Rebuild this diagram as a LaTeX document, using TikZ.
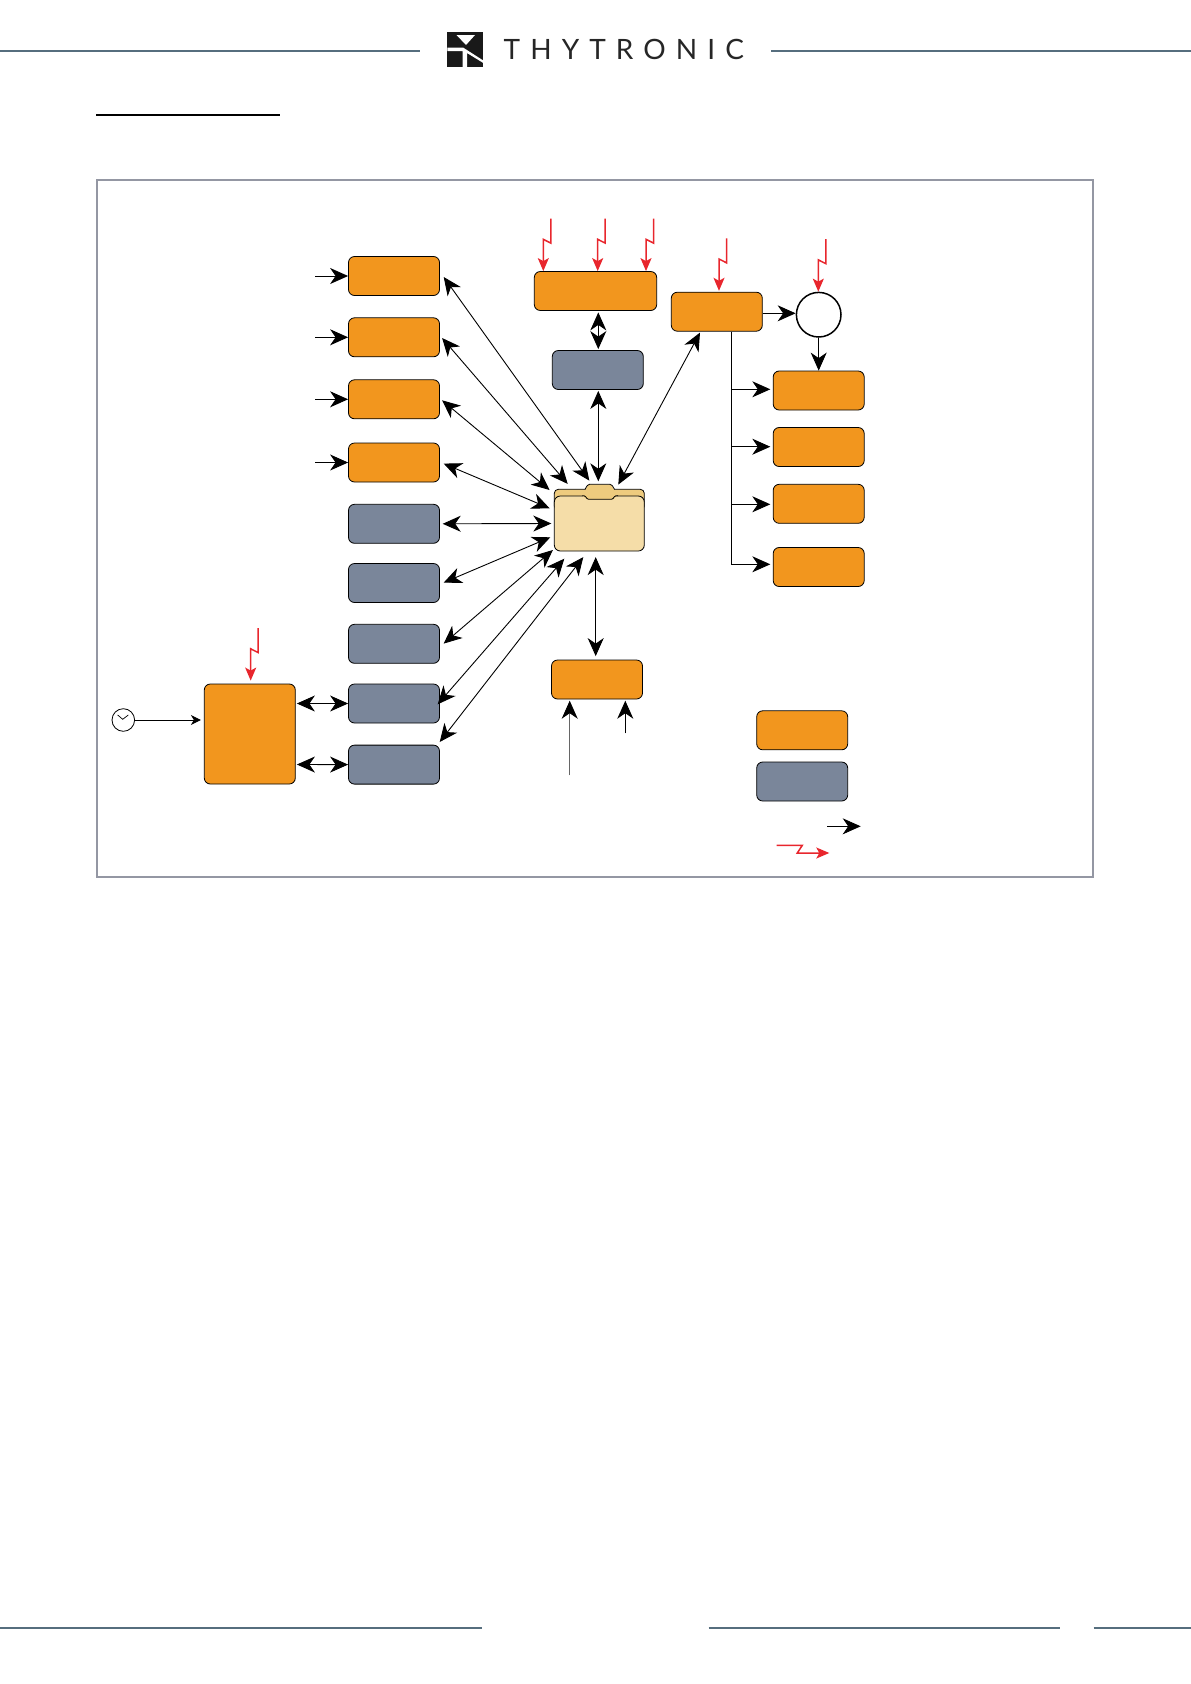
\documentclass[tikz,border=0pt]{standalone}
\usepackage{xcolor}
\usepackage{fontspec}
\usepackage{tikz}
\usetikzlibrary{shapes,arrows.meta,positioning}
\newfontfamily\logofont[LetterSpace=36]{Lato}
\definecolor{boxorange}{HTML}{F2961E}
\definecolor{boxgrey}{HTML}{7A869A}
\definecolor{boltred}{HTML}{E8262D}
\definecolor{folderfront}{HTML}{F5DDA8}
\definecolor{folderback}{HTML}{EECB7E}
\definecolor{ruleblue}{HTML}{566E7E}
\definecolor{framegrey}{HTML}{9497A3}
\newcommand{\boltto}[1]{\draw [boltarrow] #1 ++(7.5,-52.5) -- ++(0,24.5) -- ++(-7.5,-3.8) -- #1;}

\begin{document}
\begin{tikzpicture}[x=1pt, y=-1pt,
    >={Stealth[length=18pt, width=16pt, inset=5.5pt]},
    orangebox/.style={rectangle, draw, rounded corners=6pt, fill=boxorange, line width=0.8pt, minimum width=91pt, minimum height=39pt, inner sep=0pt},
    greybox/.style={orangebox, fill=boxgrey},
    link/.style={line width=0.9pt},
    boltarrow/.style={->, >={Stealth[length=13pt, width=11pt, inset=3pt]}, boltred, line width=1.5pt},
    pagerule/.style={ruleblue, line width=1.7pt}]
    \useasboundingbox (0,0) rectangle (1191,1684);

    % Page furniture
    \draw [pagerule] (0,51) -- (420,51);
    \draw [pagerule] (771,51) -- (1191,51);
    \draw [pagerule] (0,1628) -- (482.3,1628);
    \draw [pagerule] (708.6,1628) -- (1060.3,1628);
    \draw [pagerule] (1093.7,1628) -- (1191,1628);
    \draw [black, line width=2pt] (96,115) -- (280,115);
    \fill [black!90] (447.3,31.7) rectangle (483.3,67.3);
    \fill [white] (456.5,35) -- (475,35) -- (466,45) -- cycle;
    \fill [white] (447.3,47.5) -- (463,47.5) -- (483.3,60.5) -- (483.3,63) -- (467,53) -- (467,67.3) -- (462.5,67.3) -- (462.5,51) -- (447.3,51) -- cycle;
    \node [anchor=west, inner sep=0pt, text=black!85, font=\logofont\fontsize{28}{28}\selectfont] (logotext) at (503.5,49.7) {THYTRONIC};
    \draw [framegrey, line width=2pt] (97,180.3) rectangle (1093,877);

    % Nodes
    \node [orangebox] (funa) at (394,276) {};
    \node [orangebox, below of=funa, node distance=61.3pt] (funb) {};
    \node [orangebox, below of=funb, node distance=62pt] (func) {};
    \node [orangebox, below of=func, node distance=63.2pt] (fund) {};
    \node [greybox, below of=fund, node distance=61.3pt] (mema) {};
    \node [greybox, below of=mema, node distance=59.2pt] (memb) {};
    \node [greybox, below of=memb, node distance=60.8pt] (memc) {};
    \node [greybox, below of=memc, node distance=59.7pt] (memd) {};
    \node [greybox, below of=memd, node distance=61.1pt] (meme) {};
    \node [orangebox, minimum height=100pt] (master) at (249.8,734) {};
    \node [circle, draw, line width=0.8pt, minimum size=22.6pt, inner sep=0pt] (clock) at (123.3,720) {};
    \draw [line width=0.7pt] (117.7,715) -- (122.7,719.3) -- (128.3,715);

    \node [orangebox, minimum width=122.4pt] (topbox) at (595.5,291) {};
    \node [greybox] (midbox) at (597.8,370) {};

    \fill [folderback, draw=black, line width=0.8pt, rounded corners=4pt] (554.3,510) -- (554.3,489.3) -- (644.3,489.3) -- (644.3,510) -- cycle;
    \node [orangebox, fill=folderfront, minimum width=90pt, minimum height=55pt] (folder) at (599.3,523.5) {};
    \fill [folderback] (582,495.6) -- (585.5,489.6) -- (588.5,484.3) -- (611,484.3) -- (614,489.6) -- (617,495.6) -- (613.5,499.3) -- (587,499.3) -- cycle;
    \draw [line width=0.8pt, rounded corners=1.5pt] (585,489.3) -- (588,484.3) -- (611.5,484.3) -- (614.5,489.3);
    \draw [line width=0.8pt, rounded corners=1pt] (582,495.8) -- (585,495.8) -- (587.5,499.3) -- (612.5,499.3) -- (615,495.8) -- (618,495.8);

    \node [orangebox] (bottombox) at (597,679.5) {};
    \node [orangebox] (outbox) at (716.8,311.7) {};
    \node [circle, draw, line width=1.5pt, fill=white, minimum size=44.6pt, inner sep=0pt] (logic) at (818.7,314.7) {};
    \node [orangebox] (outa) at (818.7,390.5) {};
    \node [orangebox, below of=outa, node distance=56.5pt] (outb) {};
    \node [orangebox, below of=outb, node distance=56.8pt] (outc) {};
    \node [orangebox, below of=outc, node distance=63.2pt] (outd) {};
    \node [orangebox] (keyorange) at (802.2,730.3) {};
    \node [greybox, below of=keyorange, node distance=51.2pt] (keygrey) {};
    \coordinate (keyarrow) at (860.7,826.3);
    \coordinate (keybolt) at (829.3,853);

    % Path
    \draw [->, link] ([shift={(-33,0)}]funa.west) -- (funa.west);
    \draw [->, link] ([shift={(-33,0)}]funb.west) -- (funb.west);
    \draw [->, link] ([shift={(-33,0)}]func.west) -- (func.west);
    \draw [->, link] ([shift={(-33,0)}]fund.west) -- (fund.west);

    \draw [<->, link] ([shift={(3.8,1)}]funa.east) -- ([shift={(-10,-15)}]folder.north);
    \draw [<->, link] ([shift={(2.2,0.7)}]funb.east) -- ([shift={(-31.6,-11.7)}]folder.north);
    \draw [<->, link] ([shift={(2.2,1)}]func.east) -- ([shift={(-4.3,-33.5)}]folder.west);
    \draw [<->, link] ([shift={(3.8,1.1)}]fund.east) -- ([shift={(-4.3,-15.2)}]folder.west);
    \draw [<->, link] ([shift={(2.8,0)}]mema.east) -- ([shift={(-2.6,0)}]folder.west);
    \draw [<->, link] ([shift={(3.8,-0.4)}]memb.east) -- ([shift={(-3.6,13.8)}]folder.west);
    \draw [<->, link] ([shift={(3.8,-0.2)}]memc.east) -- ([shift={(-1,26.5)}]folder.west);
    \draw [<->, link] ([shift={(-2.2,0.8)}]memd.east) -- ([shift={(-35,7.3)}]folder.south);
    \draw [<->, link] ([shift={(-0.2,-22.6)}]meme.east) -- ([shift={(-16,5.7)}]folder.south);

    \draw [<->, link] ([shift={(2.8,1.5)}]topbox.south) -- ([shift={(0.5,-1)}]midbox.north);
    \draw [<->, link] ([shift={(0.5,1)}]midbox.south) -- ([shift={(-1,-14.3)}]folder.north);
    \draw [<->, link] ([shift={(-16.8,1)}]outbox.south) -- ([shift={(19,-11)}]folder.north);
    \draw [<->, link] ([shift={(-3.6,5.7)}]folder.south) -- ([shift={(-1.3,-3.5)}]bottombox.north);

    \draw [-{>[black]}, link, black!60] ([shift={(-27.3,76)}]bottombox.south) -- ([shift={(-27.3,1.3)}]bottombox.south);
    \draw [->, link] ([shift={(28.3,34)}]bottombox.south) -- ([shift={(28.3,1.3)}]bottombox.south);

    \draw [->, link, >={Stealth[length=10pt, width=10pt, inset=3pt]}] (clock.east) -- ([shift={(-3,-14)}]master.west);
    \draw [<->, link] ([shift={(1.2,-30.5)}]master.east) -- (memd.west);
    \draw [<->, link] ([shift={(1.2,30.5)}]master.east) -- (meme.west);

    \draw [->, link] ([shift={(0,1.6)}]outbox.east) -- ([shift={(0,-1.4)}]logic.west);
    \draw [->, link] (logic.south) -- (outa.north);
    \draw [->, link] ([shift={(14.9,0)}]outbox.south) |- ([shift={(-2.5,-1.2)}]outa.west);
    \draw [->, link] ([shift={(14.9,0)}]outbox.south) |- ([shift={(-2.5,-0.3)}]outb.west);
    \draw [->, link] ([shift={(14.9,0)}]outbox.south) |- ([shift={(-2.5,0.5)}]outc.west);
    \draw [->, link] ([shift={(14.9,0)}]outbox.south) |- ([shift={(-2.5,-2.7)}]outd.west);

    % Red arrows
    \boltto{(topbox.north -| 543.3,0)}
    \boltto{([shift={(2.2,0)}]topbox.north)}
    \boltto{([shift={(50.5,0)}]topbox.north)}
    \boltto{([shift={(2.2,-1)}]outbox.north)}
    \boltto{([shift={(-0.4,0)}]logic.north)}
    \boltto{([shift={(0.9,-3)}]master.north)}

    % Legend
    \draw [->, link] ([shift={(-33.7,0)}]keyarrow) -- (keyarrow);
    \draw [boltarrow] ([shift={(-52.6,-7.7)}]keybolt) -- ++(25.6,0) -- ++(-5,7.7) -- (keybolt);
\end{tikzpicture}
\end{document}
